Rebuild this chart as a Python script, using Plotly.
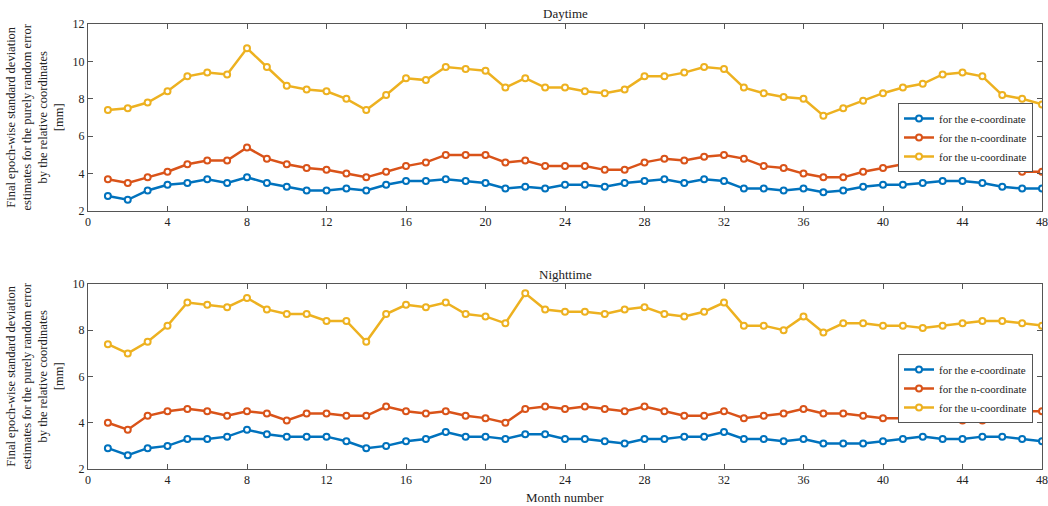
import plotly.graph_objects as go

months = list(range(1, 49))

day_e = [2.8, 2.6, 3.1, 3.4, 3.5, 3.7, 3.5, 3.8, 3.5, 3.3, 3.1, 3.1, 3.2, 3.1, 3.4, 3.6,
         3.6, 3.7, 3.6, 3.5, 3.2, 3.3, 3.2, 3.4, 3.4, 3.3, 3.5, 3.6, 3.7, 3.5, 3.7, 3.6,
         3.2, 3.2, 3.1, 3.2, 3.0, 3.1, 3.3, 3.4, 3.4, 3.5, 3.6, 3.6, 3.5, 3.3, 3.2, 3.2]
day_n = [3.7, 3.5, 3.8, 4.1, 4.5, 4.7, 4.7, 5.4, 4.8, 4.5, 4.3, 4.2, 4.0, 3.8, 4.1, 4.4,
         4.6, 5.0, 5.0, 5.0, 4.6, 4.7, 4.4, 4.4, 4.4, 4.2, 4.2, 4.6, 4.8, 4.7, 4.9, 5.0,
         4.8, 4.4, 4.3, 4.0, 3.8, 3.8, 4.1, 4.3, 4.5, 4.7, 5.0, 5.1, 4.9, 4.5, 4.1, 4.1]
day_u = [7.4, 7.5, 7.8, 8.4, 9.2, 9.4, 9.3, 10.7, 9.7, 8.7, 8.5, 8.4, 8.0, 7.4, 8.2, 9.1,
         9.0, 9.7, 9.6, 9.5, 8.6, 9.1, 8.6, 8.6, 8.4, 8.3, 8.5, 9.2, 9.2, 9.4, 9.7, 9.6,
         8.6, 8.3, 8.1, 8.0, 7.1, 7.5, 7.9, 8.3, 8.6, 8.8, 9.3, 9.4, 9.2, 8.2, 8.0, 7.7]

night_e = [2.9, 2.6, 2.9, 3.0, 3.3, 3.3, 3.4, 3.7, 3.5, 3.4, 3.4, 3.4, 3.2, 2.9, 3.0, 3.2,
           3.3, 3.6, 3.4, 3.4, 3.3, 3.5, 3.5, 3.3, 3.3, 3.2, 3.1, 3.3, 3.3, 3.4, 3.4, 3.6,
           3.3, 3.3, 3.2, 3.3, 3.1, 3.1, 3.1, 3.2, 3.3, 3.4, 3.3, 3.3, 3.4, 3.4, 3.3, 3.2]
night_n = [4.0, 3.7, 4.3, 4.5, 4.6, 4.5, 4.3, 4.5, 4.4, 4.1, 4.4, 4.4, 4.3, 4.3, 4.7, 4.5,
           4.4, 4.5, 4.3, 4.2, 4.0, 4.6, 4.7, 4.6, 4.7, 4.6, 4.5, 4.7, 4.5, 4.3, 4.3, 4.5,
           4.2, 4.3, 4.4, 4.6, 4.4, 4.4, 4.3, 4.2, 4.2, 4.2, 4.2, 4.1, 4.1, 4.3, 4.5, 4.5]
night_u = [7.4, 7.0, 7.5, 8.2, 9.2, 9.1, 9.0, 9.4, 8.9, 8.7, 8.7, 8.4, 8.4, 7.5, 8.7, 9.1,
           9.0, 9.2, 8.7, 8.6, 8.3, 9.6, 8.9, 8.8, 8.8, 8.7, 8.9, 9.0, 8.7, 8.6, 8.8, 9.2,
           8.2, 8.2, 8.0, 8.6, 7.9, 8.3, 8.3, 8.2, 8.2, 8.1, 8.2, 8.3, 8.4, 8.4, 8.3, 8.2]

series_names = ["for the e-coordinate", "for the n-coordinate", "for the u-coordinate"]
colors = ["#0072BD", "#D95319", "#EDB120"]
x_ticks = list(range(0, 49, 4))
panel_titles = ["Daytime", "Nighttime"]
y_title = ("Final epoch-wise standard deviation<br>estimates for the purely random error"
           "<br>by the relative coordinates<br>[mm]")

FONT = "Liberation Serif"
W, H = 1048, 506
L, R = 88, 1042

fig = go.Figure()

panels = [
    (panel_titles[0], [day_e, day_n, day_u], "x", "y", "legend", (24, 211), [2, 12], list(range(2, 13, 2)), (103, 148)),
    (panel_titles[1], [night_e, night_n, night_u], "x2", "y2", "legend2", (284, 469), [2, 10], list(range(2, 11, 2)), (354, 398)),
]

layout = dict(
    width=W, height=H,
    margin=dict(l=L, r=W - R, t=0, b=0, autoexpand=False),
    paper_bgcolor="white", plot_bgcolor="white",
    font=dict(family=FONT, size=12, color="#222"),
    annotations=[],
)

for i, (title, data, xa, ya, lg, (ytop, ybot), yr, yt, (lgtop, lgbot)) in enumerate(panels):
    for name, vals, col in zip(series_names, data, colors):
        fig.add_trace(go.Scatter(
            x=months, y=vals, name=name, mode="lines+markers",
            line=dict(color=col, width=2.5),
            marker=dict(symbol="circle", size=6, color="white", line=dict(color=col, width=2)),
            xaxis=xa, yaxis=ya, legend=lg,
        ))
    dom = [1 - ybot / H, 1 - ytop / H]
    axcommon = dict(showgrid=False, zeroline=False, showline=True, linecolor="#555", linewidth=1,
                    mirror="allticks", ticks="inside", ticklen=5, tickcolor="#555",
                    tickfont=dict(family=FONT, size=12, color="#222"), automargin=False,
                    ticklabeloverflow="allow")
    xkey = "xaxis" if i == 0 else "xaxis2"
    ykey = "yaxis" if i == 0 else "yaxis2"
    layout[xkey] = dict(axcommon, range=[0, 48], tickvals=x_ticks, domain=[0, 1],
                        anchor=ya)
    layout[ykey] = dict(axcommon, range=yr, tickvals=yt, domain=dom, anchor=xa)
    layout[lg] = dict(
        x=(898 - L) / (R - L), y=1 - lgtop / H, xanchor="left", yanchor="top",
        xref="paper", yref="paper",
        bgcolor="white", bordercolor="#555", borderwidth=1,
        font=dict(family=FONT, size=11, color="#222"),
        tracegroupgap=0, itemsizing="trace", itemwidth=30,
    )
    layout["annotations"].append(dict(
        text=title, xref="paper", yref="paper", x=0.5, y=1 - (ytop - 10) / H,
        xanchor="center", yanchor="middle", showarrow=False,
        font=dict(family=FONT, size=13, color="#222")))
    layout["annotations"].append(dict(
        text=y_title, xref="paper", yref="paper", x=(35 - L) / (R - L),
        y=1 - (ytop + ybot) / 2 / H, xanchor="center", yanchor="middle",
        textangle=-90, showarrow=False,
        font=dict(family=FONT, size=12.5, color="#222")))

layout["annotations"].append(dict(
    text="Month number", xref="paper", yref="paper", x=0.5, y=1 - 497 / H,
    xanchor="center", yanchor="middle", showarrow=False,
    font=dict(family=FONT, size=13, color="#222")))

fig.update_layout(**layout)
fig.write_html("out.html", config={"displayModeBar": False},
               post_script="document.body.style.margin='0';document.body.style.padding='0';")
